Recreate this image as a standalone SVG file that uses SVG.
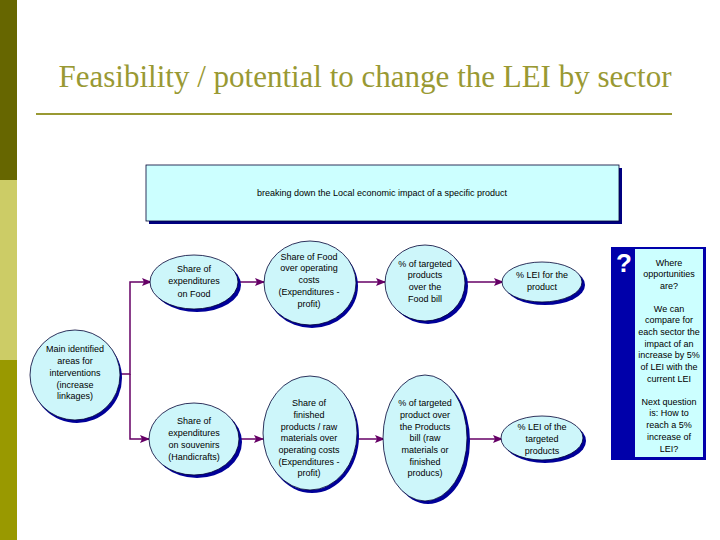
<svg xmlns="http://www.w3.org/2000/svg" width="720" height="540" viewBox="0 0 720 540">
<defs>
<style>
.t{font-family:"Liberation Sans",Arial,sans-serif;font-size:9px;fill:#000;text-anchor:middle}
.sh{fill:#000099}
.nd{fill:#cdf6fa;stroke:#000033;stroke-width:0.8}
.cn{fill:none;stroke:#660066;stroke-width:1.5}
</style>
<marker id="ah" viewBox="0 0 10 8" refX="9" refY="4" markerWidth="10" markerHeight="8" markerUnits="userSpaceOnUse" orient="auto">
<path d="M0,0 L10,4 L0,8 L2,4 Z" fill="#660066"/>
</marker>
</defs>
<rect width="720" height="540" fill="#fff"/>
<rect x="0" y="0" width="17" height="180" fill="#666600"/>
<rect x="0" y="180" width="17" height="180" fill="#cccc66"/>
<rect x="0" y="360" width="17" height="180" fill="#999900"/>
<text x="365" y="87" font-family="'Liberation Serif','Times New Roman',serif" font-size="31" fill="#999933" text-anchor="middle">Feasibility / potential to change the LEI by sector</text>
<line x1="36" y1="114" x2="672" y2="114" stroke="#999933" stroke-width="2"/>

<g id="header">
<rect x="149" y="168" width="473" height="56" fill="#000080"/>
<rect x="146" y="165" width="473" height="56" fill="#ccffff" stroke="#000033" stroke-width="0.8"/>
<text class="t" x="382" y="196">breaking down the Local economic impact of a specific product</text>
</g>

<g id="connectors">
<path class="cn" d="M120,374 H130 V282 H151" marker-end="url(#ah)"/>
<path class="cn" d="M130,374 V439 H149" marker-end="url(#ah)"/>
<path class="cn" d="M238,282 H264" marker-end="url(#ah)"/>
<path class="cn" d="M357,282 H385" marker-end="url(#ah)"/>
<path class="cn" d="M466,282 H503" marker-end="url(#ah)"/>
<path class="cn" d="M239,439 H263" marker-end="url(#ah)"/>
<path class="cn" d="M357,439 H384" marker-end="url(#ah)"/>
<path class="cn" d="M468,439 H502" marker-end="url(#ah)"/>
</g>

<g id="main">
<ellipse class="sh" cx="77" cy="378" rx="45" ry="45"/>
<ellipse class="nd" cx="75" cy="375" rx="45" ry="45"/>
<text class="t" x="75" y="352">Main identified</text>
<text class="t" x="75" y="364">areas for</text>
<text class="t" x="75" y="376">interventions</text>
<text class="t" x="75" y="388">(increase</text>
<text class="t" x="75" y="399">linkages)</text>
</g>

<g id="food-exp">
<ellipse class="sh" cx="197" cy="285" rx="44" ry="27"/>
<ellipse class="nd" cx="194" cy="282" rx="44" ry="27"/>
<text class="t" x="194" y="272">Share of</text>
<text class="t" x="194" y="284">expenditures</text>
<text class="t" x="194" y="297">on Food</text>
</g>

<g id="souv-exp">
<ellipse class="sh" cx="197" cy="442" rx="45" ry="36"/>
<ellipse class="nd" cx="194" cy="439" rx="45" ry="36"/>
<text class="t" x="194" y="424">Share of</text>
<text class="t" x="194" y="436">expenditures</text>
<text class="t" x="194" y="448">on souvenirs</text>
<text class="t" x="194" y="460">(Handicrafts)</text>
</g>

<g id="food-share">
<ellipse class="sh" cx="312" cy="286" rx="46" ry="42"/>
<ellipse class="nd" cx="310" cy="283" rx="46" ry="42"/>
<text class="t" x="309" y="260">Share of Food</text>
<text class="t" x="309" y="271">over operating</text>
<text class="t" x="309" y="283">costs</text>
<text class="t" x="309" y="295">(Expenditures -</text>
<text class="t" x="309" y="307">profit)</text>
</g>

<g id="prod-share">
<ellipse class="sh" cx="312" cy="436" rx="47" ry="57"/>
<ellipse class="nd" cx="310" cy="433" rx="47" ry="57"/>
<text class="t" x="309" y="406">Share of</text>
<text class="t" x="309" y="418">finished</text>
<text class="t" x="309" y="430">products / raw</text>
<text class="t" x="309" y="441">materials over</text>
<text class="t" x="309" y="453">operating costs</text>
<text class="t" x="309" y="465">(Expenditures -</text>
<text class="t" x="309" y="476">profit)</text>
</g>

<g id="food-target">
<ellipse class="sh" cx="428" cy="286" rx="40" ry="38"/>
<ellipse class="nd" cx="425" cy="283" rx="40" ry="38"/>
<text class="t" x="425" y="267">% of targeted</text>
<text class="t" x="425" y="278">products</text>
<text class="t" x="425" y="290">over the</text>
<text class="t" x="425" y="302">Food bill</text>
</g>

<g id="prod-target">
<ellipse class="sh" cx="428" cy="441" rx="42" ry="63"/>
<ellipse class="nd" cx="425" cy="438" rx="42" ry="63"/>
<text class="t" x="425" y="406">% of targeted</text>
<text class="t" x="425" y="418">product over</text>
<text class="t" x="425" y="430">the Products</text>
<text class="t" x="425" y="441">bill (raw</text>
<text class="t" x="425" y="453">materials or</text>
<text class="t" x="425" y="465">finished</text>
<text class="t" x="425" y="476">producs)</text>
</g>

<g id="lei-food">
<ellipse class="sh" cx="545" cy="285" rx="40" ry="20"/>
<ellipse class="nd" cx="542" cy="282" rx="40" ry="20"/>
<text class="t" x="542" y="278">% LEI for the</text>
<text class="t" x="542" y="290">product</text>
</g>

<g id="lei-prod">
<ellipse class="sh" cx="545" cy="441" rx="41" ry="22"/>
<ellipse class="nd" cx="542" cy="438" rx="41" ry="22"/>
<text class="t" x="542" y="430">% LEI of the</text>
<text class="t" x="542" y="442">targeted</text>
<text class="t" x="542" y="454">products</text>
</g>

<g id="note">
<rect x="611" y="247" width="95" height="213" fill="#0000aa"/>
<rect x="635" y="249" width="68" height="208" fill="#ccffff"/>
<text x="624" y="272" font-family="'Liberation Sans',Arial,sans-serif" font-size="26" font-weight="bold" fill="#fff" text-anchor="middle">?</text>
<text class="t" x="669" y="266">Where</text>
<text class="t" x="669" y="277">opportunities</text>
<text class="t" x="669" y="289">are?</text>
<text class="t" x="669" y="312">We can</text>
<text class="t" x="669" y="323">compare for</text>
<text class="t" x="669" y="335">each sector the</text>
<text class="t" x="669" y="347">impact of an</text>
<text class="t" x="669" y="358">increase by 5%</text>
<text class="t" x="669" y="370">of LEI with the</text>
<text class="t" x="669" y="382">current LEI</text>
<text class="t" x="669" y="405">Next question</text>
<text class="t" x="669" y="416">is: How to</text>
<text class="t" x="669" y="428">reach a 5%</text>
<text class="t" x="669" y="440">increase of</text>
<text class="t" x="669" y="452">LEI?</text>
</g>
</svg>
